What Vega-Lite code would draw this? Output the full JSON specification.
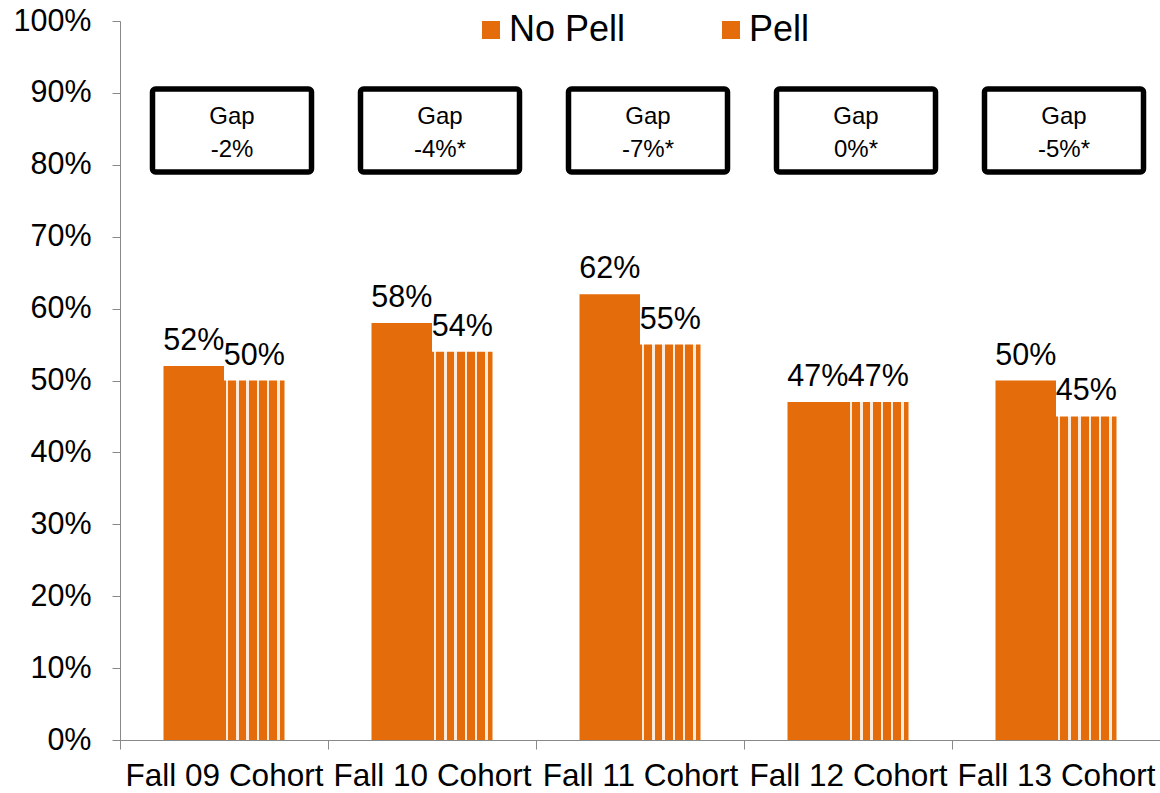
{
  "$schema": "https://vega.github.io/schema/vega-lite/v6.json",
  "autosize": "none",
  "width": 1040,
  "height": 719,
  "padding": {"left": 120, "top": 21, "right": 0, "bottom": 53},
  "background": "white",
  "config": {
    "view": {"stroke": null},
    "font": "Liberation Sans"
  },
  "datasets": {
    "bars": [
      {"cohort": "Fall 09 Cohort", "group": "No Pell", "value": 0.52},
      {"cohort": "Fall 09 Cohort", "group": "Pell", "value": 0.50},
      {"cohort": "Fall 10 Cohort", "group": "No Pell", "value": 0.58},
      {"cohort": "Fall 10 Cohort", "group": "Pell", "value": 0.54},
      {"cohort": "Fall 11 Cohort", "group": "No Pell", "value": 0.62},
      {"cohort": "Fall 11 Cohort", "group": "Pell", "value": 0.55},
      {"cohort": "Fall 12 Cohort", "group": "No Pell", "value": 0.47},
      {"cohort": "Fall 12 Cohort", "group": "Pell", "value": 0.47},
      {"cohort": "Fall 13 Cohort", "group": "No Pell", "value": 0.50},
      {"cohort": "Fall 13 Cohort", "group": "Pell", "value": 0.45}
    ],
    "gaps": [
      {"cohort": "Fall 09 Cohort", "gap": "-2%"},
      {"cohort": "Fall 10 Cohort", "gap": "-4%*"},
      {"cohort": "Fall 11 Cohort", "gap": "-7%*"},
      {"cohort": "Fall 12 Cohort", "gap": "0%*"},
      {"cohort": "Fall 13 Cohort", "gap": "-5%*"}
    ]
  },
  "encoding": {
    "x": {
      "field": "cohort",
      "type": "nominal",
      "sort": null,
      "scale": {"paddingInner": 0, "paddingOuter": 0},
      "axis": {
        "title": null,
        "labelAngle": 0,
        "tickBand": "extent",
        "domainColor": "#898989",
        "tickColor": "#898989",
        "tickSize": 9,
        "labelFontSize": 31.5,
        "labelColor": "#000000",
        "labelPadding": 11,
        "labelLimit": 0,
        "labelOverlap": false
      }
    }
  },
  "layer": [
    {
      "data": {"name": "bars"},
      "mark": {"type": "bar"},
      "encoding": {
        "xOffset": {"field": "group", "type": "nominal", "scale": {"paddingInner": 0, "paddingOuter": 0.719}},
        "y": {
          "field": "value",
          "type": "quantitative",
          "scale": {"domain": [0, 1], "nice": false},
          "axis": {
            "title": null,
            "format": ".0%",
            "values": [0, 0.1, 0.2, 0.3, 0.4, 0.5, 0.6, 0.7, 0.8, 0.9, 1],
            "grid": false,
            "domainColor": "#898989",
            "tickColor": "#898989",
            "tickSize": 8,
            "labelPadding": 21,
            "labelFontSize": 30.5,
            "labelColor": "#000000"
          }
        },
        "fill": {
          "condition": {
            "test": "datum.group === 'Pell'",
            "value": {
              "gradient": "linear", "x1": 0, "y1": 0, "x2": 1, "y2": 0,
              "stops": [
                {"offset": 0, "color": "#E46C0A"},
                {"offset": 0.03, "color": "#E46C0A"},
                {"offset": 0.03, "color": "#FDEADA"},
                {"offset": 0.07, "color": "#FDEADA"},
                {"offset": 0.07, "color": "#E46C0A"},
                {"offset": 0.20, "color": "#E46C0A"},
                {"offset": 0.20, "color": "#FDEADA"},
                {"offset": 0.24, "color": "#FDEADA"},
                {"offset": 0.24, "color": "#E46C0A"},
                {"offset": 0.37, "color": "#E46C0A"},
                {"offset": 0.37, "color": "#FDEADA"},
                {"offset": 0.41, "color": "#FDEADA"},
                {"offset": 0.41, "color": "#E46C0A"},
                {"offset": 0.54, "color": "#E46C0A"},
                {"offset": 0.54, "color": "#FDEADA"},
                {"offset": 0.58, "color": "#FDEADA"},
                {"offset": 0.58, "color": "#E46C0A"},
                {"offset": 0.71, "color": "#E46C0A"},
                {"offset": 0.71, "color": "#FDEADA"},
                {"offset": 0.75, "color": "#FDEADA"},
                {"offset": 0.75, "color": "#E46C0A"},
                {"offset": 0.88, "color": "#E46C0A"},
                {"offset": 0.88, "color": "#FDEADA"},
                {"offset": 0.92, "color": "#FDEADA"},
                {"offset": 0.92, "color": "#E46C0A"},
                {"offset": 1, "color": "#E46C0A"}
              ]
            }
          },
          "field": "group",
          "type": "nominal",
          "scale": {"domain": ["No Pell", "Pell"], "range": ["#E46C0A", "#E46C0A"]},
          "legend": {
            "title": null,
            "orient": "none",
            "direction": "horizontal",
            "legendX": 353,
            "legendY": -9,
            "symbolType": "square",
            "symbolSize": 324,
            "symbolStrokeWidth": 0,
            "labelFontSize": 36,
            "labelColor": "#000000",
            "labelOffset": 0,
            "columnPadding": 87,
            "labelLimit": 0
          }
        }
      }
    },
    {
      "data": {"name": "bars"},
      "mark": {"type": "text", "fontSize": 30.5, "baseline": "alphabetic", "dy": -16, "color": "#000000"},
      "encoding": {
        "xOffset": {"field": "group", "type": "nominal", "scale": {"paddingInner": 0, "paddingOuter": 0.719}},
        "y": {"field": "value", "type": "quantitative"},
        "text": {"field": "value", "type": "quantitative", "format": ".0%"}
      }
    },
    {
      "data": {"name": "gaps"},
      "mark": {"type": "rect", "width": 159, "xOffset": 8, "fill": "white", "stroke": "#000000", "strokeWidth": 5.5, "cornerRadius": 3},
      "encoding": {
        "y": {"datum": 0.9054},
        "y2": {"datum": 0.790}
      }
    },
    {
      "data": {"name": "gaps"},
      "mark": {"type": "text", "text": "Gap", "fontSize": 24, "baseline": "middle", "xOffset": 8, "color": "#000000"},
      "encoding": {
        "y": {"datum": 0.866}
      }
    },
    {
      "data": {"name": "gaps"},
      "mark": {"type": "text", "fontSize": 24, "baseline": "middle", "xOffset": 8, "color": "#000000"},
      "encoding": {
        "y": {"datum": 0.821},
        "text": {"field": "gap", "type": "nominal"}
      }
    }
  ]
}
